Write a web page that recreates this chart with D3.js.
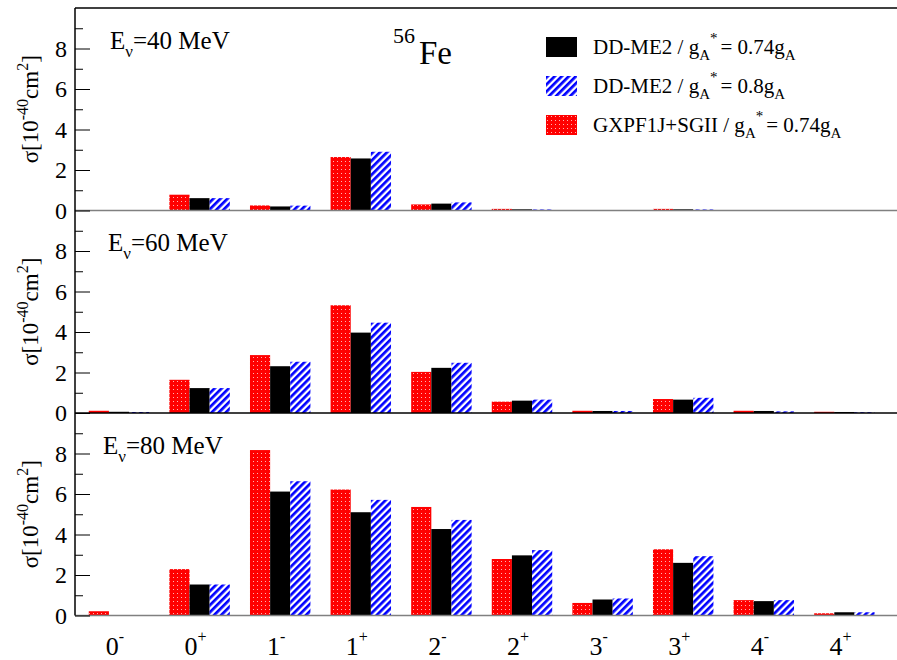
<!DOCTYPE html>
<html>
<head>
<meta charset="utf-8">
<script src="https://cdn.jsdelivr.net/npm/d3@7/dist/d3.min.js"></script>
<style>
  html, body { margin: 0; padding: 0; background: #fff; }
  svg { display: block; font-family: "Liberation Serif", "DejaVu Serif", serif; }
</style>
</head>
<body>
<svg id="chart" width="897" height="660"></svg>
<script>
// Multipole transitions (J^pi) of the final nucleus
const spins    = ["0", "0", "1", "1", "2", "2", "3", "3", "4", "4"];
const parities = ["-", "+", "-", "+", "-", "+", "-", "+", "-", "+"];
const categories = spins.map((s, i) => s + parities[i]);

// Incoming neutrino energies, one panel each (MeV)
const energies = [40, 60, 80];

// Cross sections sigma [1e-40 cm^2]
const gxpf_40   = [0.00, 0.78, 0.25, 2.64, 0.30, 0.08, 0.01, 0.08, 0.00, 0.00];
const ddme74_40 = [0.00, 0.61, 0.20, 2.57, 0.34, 0.06, 0.01, 0.06, 0.00, 0.00];
const ddme80_40 = [0.00, 0.61, 0.24, 2.90, 0.40, 0.05, 0.01, 0.05, 0.00, 0.00];

const gxpf_60   = [0.11, 1.64, 2.86, 5.32, 2.03, 0.56, 0.11, 0.69, 0.11, 0.06];
const ddme74_60 = [0.06, 1.23, 2.31, 3.97, 2.23, 0.61, 0.10, 0.66, 0.10, 0.05];
const ddme80_60 = [0.05, 1.23, 2.53, 4.46, 2.48, 0.66, 0.10, 0.75, 0.08, 0.04];

const gxpf_80   = [0.21, 2.29, 8.17, 6.22, 5.36, 2.79, 0.62, 3.27, 0.76, 0.11];
const ddme74_80 = [0.00, 1.53, 6.12, 5.10, 4.27, 2.97, 0.79, 2.60, 0.71, 0.16];
const ddme80_80 = [0.00, 1.53, 6.63, 5.71, 4.72, 3.23, 0.84, 2.93, 0.76, 0.16];

const majorTicks = [0, 2, 4, 6, 8];
const minorTicks = [1, 3, 5, 7, 9];

// Series in drawing order within each group
const seriesKeys = ["gxpf", "ddme74", "ddme80"];
const panelData = [
  { gxpf: gxpf_40, ddme74: ddme74_40, ddme80: ddme80_40 },
  { gxpf: gxpf_60, ddme74: ddme74_60, ddme80: ddme80_60 },
  { gxpf: gxpf_80, ddme74: ddme74_80, ddme80: ddme80_80 }
];

const svg = d3.select("#chart");
const defs = svg.append("defs");

// Red with white dots
const dots = defs.append("pattern")
  .attr("id", "redDots").attr("patternUnits", "userSpaceOnUse")
  .attr("width", 4).attr("height", 4);
dots.append("rect").attr("width", 4).attr("height", 4).attr("fill", "#ff0000");
dots.append("rect").attr("x", 1).attr("y", 1).attr("width", 1).attr("height", 1)
  .attr("fill", "#ffffff").attr("opacity", 0.7);

// Blue diagonal hatching
const hatch = defs.append("pattern")
  .attr("id", "blueHatch").attr("patternUnits", "userSpaceOnUse")
  .attr("width", 5).attr("height", 5)
  .attr("patternTransform", "rotate(45)");
hatch.append("rect").attr("width", 5).attr("height", 5).attr("fill", "#ffffff");
hatch.append("rect").attr("width", 2.7).attr("height", 5).attr("fill", "#0000ff");

const fills = { gxpf: "url(#redDots)", ddme74: "#000000", ddme80: "url(#blueHatch)" };

const axisX = 75, rightX = 897;
const plotTop = 8, panelH = 202.5;

const x = d3.scaleBand().domain(categories).range([78.7, 884.7])
  .paddingInner(0.25).paddingOuter(0.125);
const xSub = d3.scaleBand().domain(seriesKeys).range([0, x.bandwidth()]);

energies.forEach((E, p) => {
  const base = plotTop + panelH * (p + 1);
  const y = d3.scaleLinear().domain([0, 10]).range([base, base - panelH]);
  const g = svg.append("g");

  // bars
  seriesKeys.forEach(key => {
    g.append("g").selectAll("rect")
      .data(panelData[p][key])
      .join("rect")
      .attr("x", (d, i) => x(categories[i]) + xSub(key))
      .attr("width", xSub.bandwidth())
      .attr("y", d => y(d))
      .attr("height", d => y(0) - y(d))
      .attr("fill", fills[key]);
  });

  // baseline
  g.append("line")
    .attr("x1", axisX).attr("x2", rightX)
    .attr("y1", y(0)).attr("y2", y(0))
    .attr("stroke", p === 1 ? "#000" : "#808080").attr("stroke-width", 1.5);

  // y axis: major ticks with labels, minor ticks without
  const major = d3.axisLeft(y).tickValues(majorTicks).tickFormat(d3.format("d"))
    .tickSizeInner(-15).tickSizeOuter(0).tickPadding(8);
  const gm = g.append("g").attr("transform", `translate(${axisX},0)`).call(major);
  gm.select(".domain").remove();
  gm.selectAll("text").attr("font-size", 24).attr("font-family", "Liberation Serif").attr("fill", "#000");
  gm.selectAll("line").attr("stroke", "#000");

  const minor = d3.axisLeft(y).tickValues(minorTicks).tickFormat("")
    .tickSizeInner(-8).tickSizeOuter(0);
  const gn = g.append("g").attr("transform", `translate(${axisX},0)`).call(minor);
  gn.select(".domain").remove();
  gn.selectAll("line").attr("stroke", "#000");

  // y title
  const ty = g.append("text")
    .attr("transform", `translate(38,${y(5)}) rotate(-90)`)
    .attr("text-anchor", "middle").attr("font-size", 23).attr("fill", "#000");
  ty.append("tspan").text("σ[10");
  ty.append("tspan").attr("dy", -10).attr("font-size", 16).text("-40");
  ty.append("tspan").attr("dy", 10).text("cm");
  ty.append("tspan").attr("dy", -10).attr("font-size", 16).text("2");
  ty.append("tspan").attr("dy", 10).text("]");

  // energy label
  const te = g.append("text")
    .attr("x", [110, 108, 103][p]).attr("y", y(8.0))
    .attr("font-size", 25).attr("fill", "#000");
  te.append("tspan").text("E");
  te.append("tspan").attr("dy", 8).attr("font-size", 17).text("ν");
  te.append("tspan").attr("dy", -8).text(`=${E} MeV`);
});

// left axis line and top frame
svg.append("line").attr("x1", axisX).attr("x2", axisX)
  .attr("y1", plotTop).attr("y2", plotTop + 3 * panelH)
  .attr("stroke", "#000").attr("stroke-width", 1.5);
svg.append("line").attr("x1", axisX).attr("x2", rightX)
  .attr("y1", plotTop).attr("y2", plotTop)
  .attr("stroke", "#000").attr("stroke-width", 1.5);

// x tick labels (J^pi)
const xl = svg.append("g").selectAll("text")
  .data(categories).join("text")
  .attr("x", d => x(d) + x.bandwidth() / 2 - 4)
  .attr("y", 655).attr("text-anchor", "middle")
  .attr("font-size", 26).attr("fill", "#000");
xl.append("tspan").text((d, i) => spins[i]);
xl.append("tspan").attr("dy", -13).attr("font-size", 16)
  .text((d, i) => parities[i] === "-" ? "-" : "+");

// nucleus label
const fe = svg.append("text").attr("x", 393).attr("y", 64).attr("fill", "#000");
fe.append("tspan").attr("font-size", 22).attr("dy", -21).text("56");
fe.append("tspan").attr("font-size", 33).attr("dy", 21).attr("dx", 4).text("Fe");

// legend
const legendItems = [
  { key: "ddme74", pre: "DD-ME2 / g", val: "= 0.74g" },
  { key: "ddme80", pre: "DD-ME2 / g", val: "= 0.8g" },
  { key: "gxpf",   pre: "GXPF1J+SGII / g", val: "= 0.74g" }
];
const lg = svg.append("g").selectAll("g").data(legendItems).join("g")
  .attr("transform", (d, i) => `translate(546,${[37, 76, 115][i]})`);
lg.append("rect").attr("width", 31).attr("height", 20).attr("fill", d => fills[d.key]);
const lt = lg.append("text").attr("x", 47).attr("y", 17).attr("font-size", 21).attr("fill", "#000");
lt.append("tspan").text(d => d.pre);
lt.append("tspan").attr("dy", 6).attr("font-size", 15).text("A");
lt.append("tspan").attr("dy", -17).attr("font-size", 15).text("*");
lt.append("tspan").attr("dy", 11).attr("dx", 3).text(d => d.val);
lt.append("tspan").attr("dy", 6).attr("font-size", 15).text("A");
</script>
</body>
</html>
